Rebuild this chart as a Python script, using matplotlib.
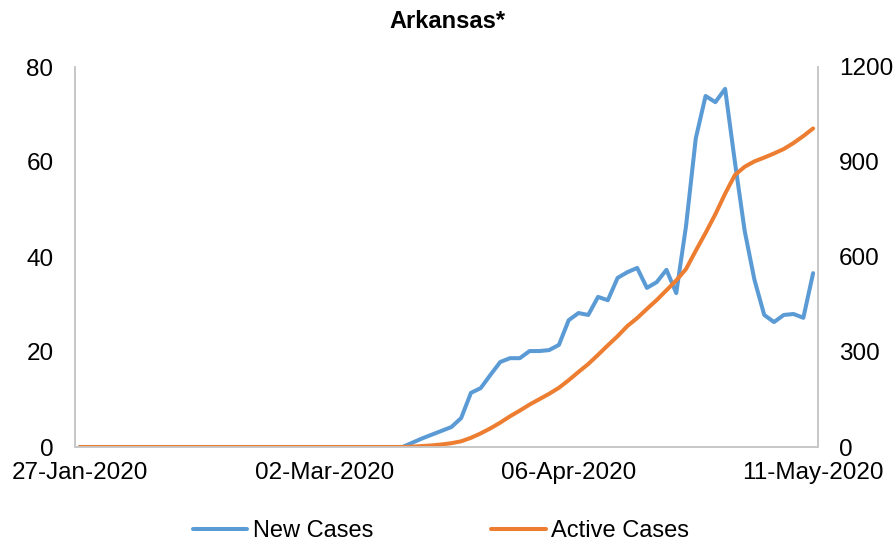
import matplotlib
matplotlib.use("Agg")
import matplotlib.pyplot as plt
import pandas as pd
import numpy as np

plt.rcParams['font.family'] = ['Liberation Sans', 'DejaVu Sans']

dates = pd.bdate_range('2020-01-27', '2020-05-11')
tick_labels = ['27-Jan-2020', '02-Mar-2020', '06-Apr-2020', '11-May-2020']

new_cases = [0] * 33 + [
    0, 0.9, 1.8, 2.6, 3.4, 4.2, 6.1, 11.4, 12.4, 15.2,
    17.9, 18.7, 18.7, 20.2, 20.2, 20.4, 21.5, 26.7, 28.2, 27.8,
    31.6, 30.9, 35.6, 36.8, 37.7, 33.5, 34.7, 37.3, 32.4, 46.5,
    65.0, 73.9, 72.6, 75.4, 60.0, 45.5, 35.2, 27.8, 26.3, 27.8,
    28.0, 27.2, 36.6]

active_cases = [0] * 33 + [
    0, 1, 3, 5, 8, 12, 18, 29, 43, 59,
    77, 97, 115, 134, 151, 168, 187, 211, 237, 262,
    291, 321, 350, 382, 407, 436, 464, 495, 526, 562,
    620, 676, 735, 800, 859, 885, 902, 914, 927, 941,
    960, 982, 1006]

left_ticks = [0, 20, 40, 60, 80]
right_ticks = [0, 300, 600, 900, 1200]

blue = '#5B9BD5'
orange = '#ED7D31'
spine_c = '#C8C8C8'
fs = 17.5

fig = plt.figure(figsize=(8.94, 5.46), dpi=100)
ax = fig.add_axes([75/894, 1-447/546, (818-75)/894, (447-67)/546])
ax2 = ax.twinx()

x = np.arange(len(dates))
l1, = ax.plot(x, new_cases, color=blue, lw=2.9, solid_joinstyle='round',
              solid_capstyle='round', label='New Cases')
l2, = ax2.plot(x, active_cases, color=orange, lw=2.9, solid_joinstyle='round',
               solid_capstyle='round', label='Active Cases')

ax.set_xlim(-0.5, len(dates) - 0.5)
ax.set_ylim(0, 80)
ax2.set_ylim(0, 1200)
ax.set_yticks(left_ticks)
ax2.set_yticks(right_ticks)
ax.set_xticks([0, 25, 50, 75])
ax.set_xticklabels(tick_labels)

for a in (ax, ax2):
    a.tick_params(length=0, labelsize=fs, colors='#000000')
    a.spines['top'].set_visible(False)
    for s in ('left', 'bottom', 'right'):
        a.spines[s].set_color(spine_c)
        a.spines[s].set_linewidth(1.3)
ax.tick_params(axis='y', pad=15.5)
ax2.tick_params(axis='y', pad=15)
ax.tick_params(axis='x', pad=11)

fig.text(447/894, 1-21/546, 'Arkansas*', ha='center', va='center', fontsize=17, fontweight='bold')

fig.legend(handles=[l1, l2], loc='center', bbox_to_anchor=(441/894, 1-531/546), ncol=2,
           frameon=False, fontsize=17, handlelength=2.3, handletextpad=0.25, columnspacing=5.0)

fig.savefig('out.png', dpi=100)
